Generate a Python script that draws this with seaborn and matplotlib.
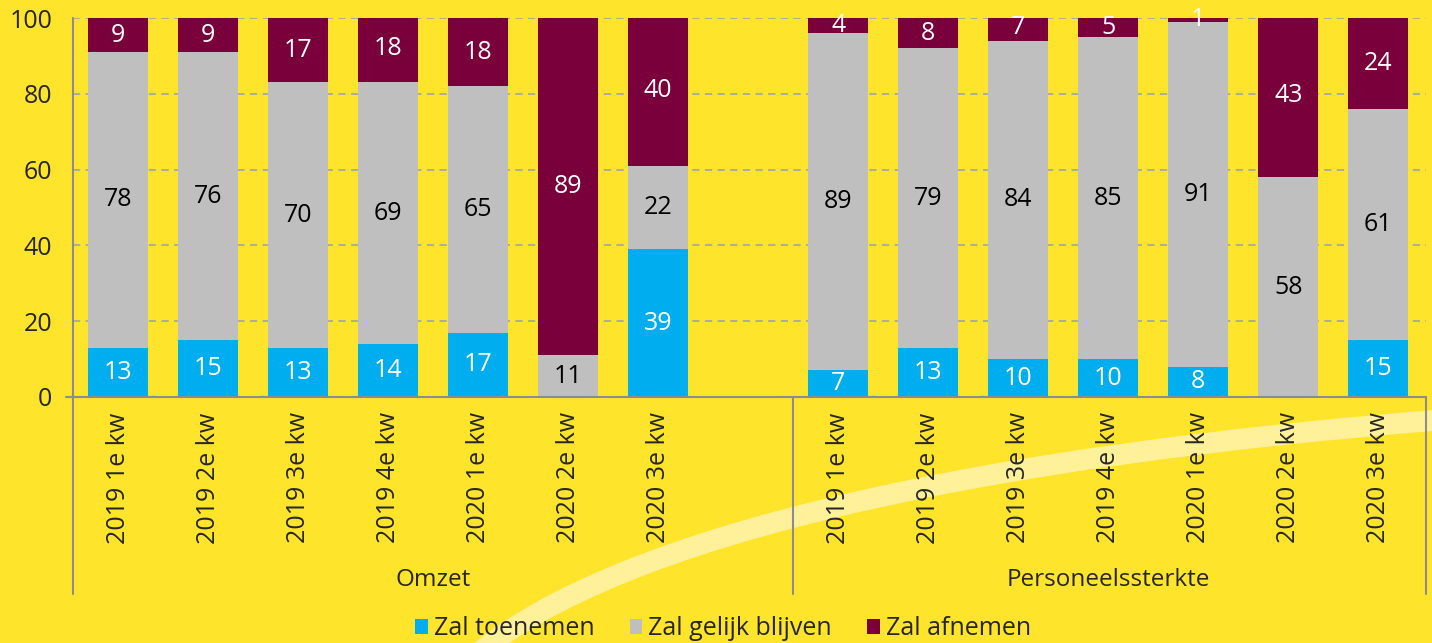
import pandas as pd
import matplotlib.pyplot as plt
import seaborn as sns
from matplotlib.path import Path
from matplotlib.patches import PathPatch

# Data (percent)
periods = ['2019 1e kw', '2019 2e kw', '2019 3e kw', '2019 4e kw',
           '2020 1e kw', '2020 2e kw', '2020 3e kw']
groups = ['Omzet', 'Personeelssterkte']

omzet_toe = [13, 15, 13, 14, 17, 0, 39]
omzet_gelijk = [78, 76, 70, 69, 65, 11, 22]
omzet_af = [9, 9, 17, 18, 18, 89, 40]

pers_toe = [7, 13, 10, 10, 8, 0, 15]
pers_gelijk = [89, 79, 84, 85, 91, 58, 61]
pers_af = [4, 8, 7, 5, 1, 43, 24]

series = ['Zal toenemen', 'Zal gelijk blijven', 'Zal afnemen']
colors = ['#00AEEF', '#BFBFBF', '#7A003C']
text_colors = ['white', 'black', 'white']
bg = '#FFE42C'

# Build one long table, with a spacer slot after the first group
rows = []
for g, toe, gel, af in [(groups[0], omzet_toe, omzet_gelijk, omzet_af),
                        (groups[1], pers_toe, pers_gelijk, pers_af)]:
    for p, a, b, c in zip(periods, toe, gel, af):
        rows.append({'key': f'{g}|{p}', 'period': p, 'toe': a, 'gelijk': b, 'af': c})
df = pd.DataFrame(rows)
df['c1'] = df['toe']
df['c2'] = df['toe'] + df['gelijk']
df['c3'] = df['c2'] + df['af']

order = [f'{groups[0]}|{p}' for p in periods] + ['gap'] + [f'{groups[1]}|{p}' for p in periods]
tick_labels = periods + [''] + periods

sns.set_style('white')
plt.rcParams['font.family'] = ['Open Sans', 'DejaVu Sans']

fig = plt.figure(figsize=(14.32, 6.43), dpi=100, facecolor=bg)
ax = fig.add_axes([0.0510, 0.3826, 0.9448, 0.5894])
ax.set_facecolor(bg)

# decorative swoosh in the background
verts = [(470, 660), (620, 530), (1000, 455), (1440, 420)]
verts = [(x / 1432, 1 - y / 643) for x, y in verts]
swoosh = PathPatch(Path(verts, [Path.MOVETO, Path.CURVE4, Path.CURVE4, Path.CURVE4]),
                   transform=fig.transFigure, facecolor='none', edgecolor='#FFF19A',
                   lw=15, zorder=-1)
fig.add_artist(swoosh)

# stacked bars: draw cumulative totals from the top down
for col, name, color in [('c3', series[2], colors[2]),
                         ('c2', series[1], colors[1]),
                         ('c1', series[0], colors[0])]:
    sns.barplot(data=df, x='key', y=col, order=order, color=color, saturation=1,
                width=0.667, linewidth=0, errorbar=None, label=name, ax=ax, zorder=2)

# value labels
for _, r in df.iterrows():
    i = order.index(r['key'])
    bottom = 0
    for val, tc in zip([r['toe'], r['gelijk'], r['af']], text_colors):
        if val > 0:
            ax.text(i, bottom + val / 2, str(val), ha='center', va='center',
                    color=tc, fontsize=18, zorder=3)
        bottom += val

ax.set_ylim(0, 100)
ax.set_xlim(-0.5, 14.53)
ax.set_yticks([0, 20, 40, 60, 80, 100])
ax.set_xticks(range(len(order)))
ax.set_xticklabels(tick_labels, rotation=90)
ax.set_xlabel('')
ax.set_ylabel('')
ax.tick_params(axis='y', length=5, width=1.3, color='#8C8C8C', pad=10, labelsize=18)
ax.tick_params(axis='x', length=0, pad=11, labelsize=18)
ax.yaxis.grid(True, color='#A6A6A6', lw=1.3, linestyle=(0, (4, 3)))
ax.set_axisbelow(True)
for s in ax.spines.values():
    s.set_visible(False)

# axis lines and group separators
line_kw = dict(color='#8C8C8C', lw=1.5, clip_on=False, zorder=4)
ax.plot([0, 0], [1, -0.52], transform=ax.transAxes, **line_kw)
ax.plot([1, 1], [0, -0.52], transform=ax.transAxes, **line_kw)
ax.plot([-0.005, 1], [0, 0], transform=ax.transAxes, **line_kw)
ax.plot([7.5, 7.5], [0, -0.52], transform=ax.get_xaxis_transform(), **line_kw)

# group labels
ax.text(3.5, -0.483, groups[0], transform=ax.get_xaxis_transform(),
        ha='center', va='center', fontsize=17.5)
ax.text(11.0, -0.483, groups[1], transform=ax.get_xaxis_transform(),
        ha='center', va='center', fontsize=17.5)

handles, labels = ax.get_legend_handles_labels()
lookup = dict(zip(labels, handles))
if ax.get_legend() is not None:
    ax.get_legend().remove()
fig.legend([lookup[s] for s in series], series, loc='center',
           bbox_to_anchor=(0.505, 0.022), ncol=3, frameon=False, fontsize=18,
           handlelength=0.5, handleheight=0.5, handletextpad=0.25, columnspacing=1.4)

fig.savefig('out.png', dpi=100, facecolor=bg)
